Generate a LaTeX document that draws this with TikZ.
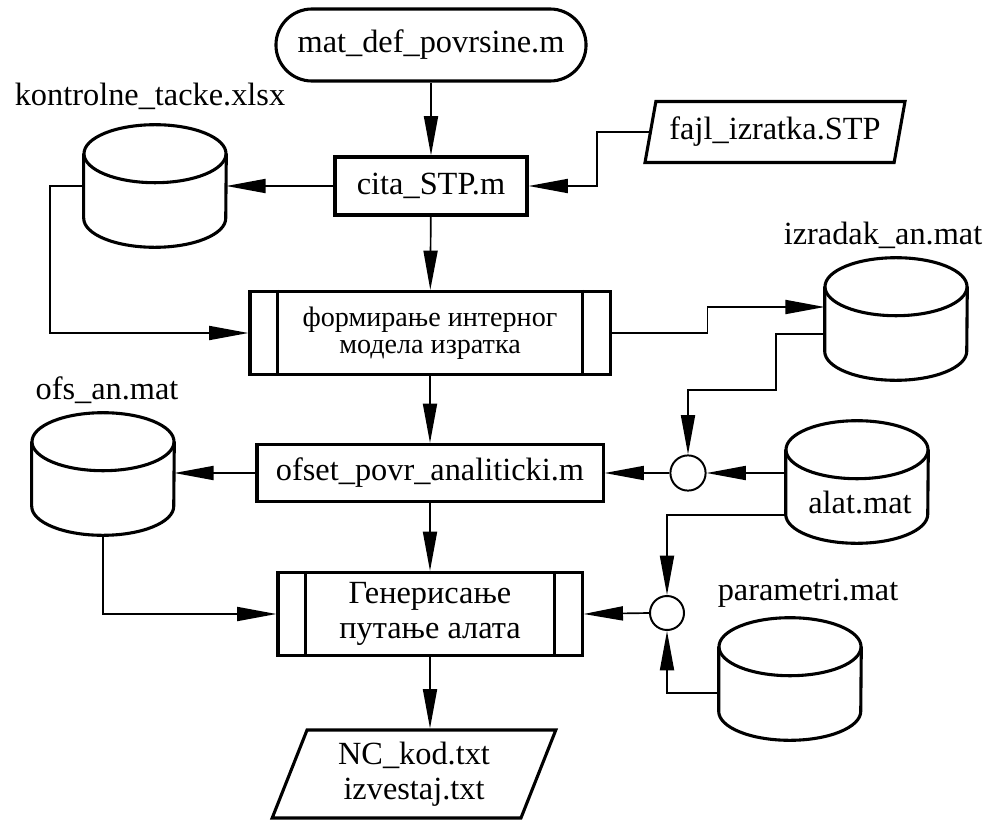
\documentclass[tikz,border=0pt]{standalone}
\usepackage{fontspec}
\setmainfont{Liberation Serif}
\usetikzlibrary{shapes.geometric,arrows.meta,calc}

\tikzset{
  every node/.style={font=\fontsize{23}{25}\selectfont},
  okvir/.style={draw, line width=2.2pt, inner sep=0pt, align=center},
  proces/.style={okvir, rectangle},
  ulaz/.style={okvir, trapezium, trapezium left angle=70, trapezium right angle=110, trapezium stretches=true},
  baza/.style={rectangle, minimum width=3.55cm, minimum height=3.05cm, inner sep=0pt},
  spoj/.style={circle, draw, line width=1.4pt, minimum size=0.88cm, inner sep=0pt},
  veza/.style={line width=1.2pt, -{Triangle[length=28pt,width=10pt]}},
  natpis/.style={inner sep=0pt},
}

\begin{document}
\begin{tikzpicture}[x=0.025cm, y=-0.025cm]
    \useasboundingbox (0,0) rectangle (992,821);

    % Main column
    \node[proces, rounded corners=0.9cm, minimum width=7.75cm, minimum height=1.8cm] (start) at (431,45) {mat\_def\_povrsine.m};
    \node[proces, minimum width=4.8cm, minimum height=1.45cm] (cita) at (431,186) {cita\_STP.m};
    \node[proces, minimum width=9cm, minimum height=2.075cm, font=\fontsize{20}{19}\selectfont] (form) at (430,333) {формирање интерног\\модела изратка};
    \node[proces, minimum width=8.65cm, minimum height=1.425cm] (ofset) at (430,473) {ofset\_povr\_analiticki.m};
    \node[proces, minimum width=7.6cm, minimum height=2.075cm] (gen) at (430,614) {Генерисање\\путање алата};
    \node[ulaz, trapezium left angle=69, trapezium right angle=111, minimum width=7.1cm, minimum height=2.2cm] (out) at (414,774) {NC\_kod.txt\\izvestaj.txt};

    % Input file
    \node[ulaz, trapezium left angle=72, trapezium right angle=108, minimum width=6.5cm, minimum height=1.525cm] (fajl) at (775,132) {fajl\_izratka.STP};

    % Data stores
    \node[baza] (kt) at (155,186) {};
    \node[baza] (iz) at (896,319) {};
    \node[baza] (ofs) at (103,474) {};
    \node[baza] (alat) at (857,482) {};
    \node[baza] (par) at (790,679) {};

    \node[natpis] (ktlab) at (150,96) {kontrolne\_tacke.xlsx};
    \node[natpis] (izlab) at (883,235) {izradak\_an.mat};
    \node[natpis] (ofslab) at (107,390) {ofs\_an.mat};
    \node[natpis] (alatlab) at (860,503) {alat.mat};
    \node[natpis] (parlab) at (808,593) {parametri.mat};

    \foreach \b in {kt,iz,ofs,alat,par}{
      \draw[line width=2.2pt] ($(\b.north)+(0,29)$) ellipse [x radius=1.775cm, y radius=0.725cm];
      \draw[line width=2.2pt] ($(\b.north west)+(0,29)$) -- ($(\b.south west)+(0,-29)$)
        arc[start angle=180, end angle=360, x radius=1.775cm, y radius=0.725cm]
        -- ($(\b.north east)+(0,29)$);
    }

    % Side bars
    \foreach \p in {form,gen}{
      \draw[line width=2.2pt] ([xshift=0.725cm]\p.north west) -- ([xshift=0.725cm]\p.south west);
      \draw[line width=2.2pt] ([xshift=-0.725cm]\p.north east) -- ([xshift=-0.725cm]\p.south east);
    }

    % Junctions
    \node[spoj] (c1) at (688,473) {};
    \node[spoj, minimum size=0.85cm] (c2) at (667,613) {};

    % Connectors
    \draw[veza] (start) -- (cita);
    \draw[veza] (cita) -- (form);
    \draw[veza] (form) -- (ofset);
    \draw[veza] (ofset) -- (gen);
    \draw[veza] (gen.south) -- (gen.south |- out.north);

    \draw[veza] (cita.west) -- (kt.east);
    \draw[veza] (fajl.west) -- ++(-52,0) |- (cita.east);
    \draw[veza] (kt.west) -- ++(-34,0) |- (form.west);
    \draw[veza] (form.east) -- ++(96,0) |- ($(iz.west)+(0,-12)$);
    \draw[veza] ($(iz.west)+(0,15)$) -- ++(-49,0) -- ++(0,56) -| (c1.north);

    \draw[veza] (c1.west) -- (ofset.east);
    \draw[veza] (alat.west |- c1.east) -- (c1.east);
    \draw[veza] (ofset.west) -- (ofs.east |- ofset.west);
    \draw[veza] (ofs.south) |- (gen.west);

    \draw[veza] (c2.west) -- (gen.east);
    \draw[veza] ($(alat.west)+(0,33)$) -| (c2.north);
    \draw[veza] ($(par.west)+(0,14)$) -| (c2.south);
\end{tikzpicture}
\end{document}
